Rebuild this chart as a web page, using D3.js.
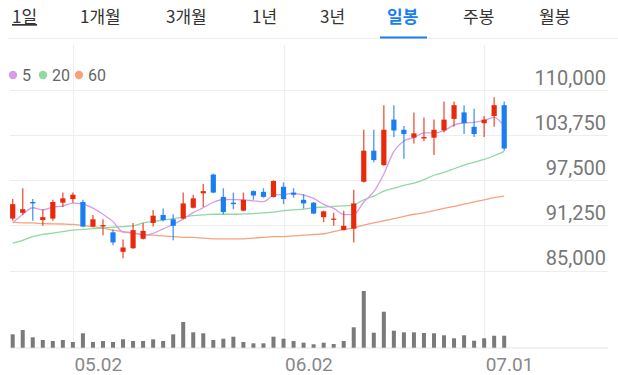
<!DOCTYPE html>
<html><head><meta charset="utf-8">
<script src="https://cdn.jsdelivr.net/npm/d3@7"></script>
<style>html,body{margin:0;padding:0;background:#fff;}svg{display:block;}</style>
</head><body>
<svg id="chart" width="618" height="375"></svg>
<script>
const dates = ["04.22","04.25","04.26","04.27","04.28","04.29","05.02","05.03","05.04","05.06",
"05.09","05.10","05.11","05.12","05.13","05.16","05.17","05.18","05.19","05.20",
"05.23","05.24","05.25","05.26","05.27","05.30","05.31","06.02","06.03","06.07",
"06.08","06.09","06.10","06.13","06.14","06.15","06.16","06.17","06.20","06.21",
"06.22","06.23","06.24","06.27","06.28","06.29","06.30","07.01","07.04","07.05"];
const openP = [92200,93000,94500,92000,92200,94400,94900,94500,91100,91100,
90300,87600,88100,89400,91600,92700,92100,92200,93700,95700,
98300,95200,94400,93300,96000,95900,95200,96600,95800,94800,
94400,92400,92100,90600,90800,97300,101600,99600,105900,104500,
103400,103300,103400,104400,106000,106900,104900,105400,106400,107900];
const highP = [94900,96400,94900,93500,94800,95800,95800,94800,92700,92100,
90700,89300,91600,91600,93400,93600,92800,95800,95500,97000,
98400,96400,95800,95800,96100,96400,97500,97200,96400,95600,
94500,93300,93000,93300,96200,104500,104500,107900,107900,105000,
106900,106200,105900,108400,108400,107900,107400,106400,109000,108400];
const lowP = [91900,92700,91900,91200,91900,93800,94400,91000,91000,89900,
88500,86700,88000,89300,91100,91800,89200,92100,93600,93800,
95700,92800,93500,93200,94800,95100,95100,94200,95100,93600,
92800,91700,91200,90600,88900,97200,100000,99500,103500,100500,
102600,102900,101000,104100,104900,103900,103500,103500,104900,101600];
const closeP = [94200,93500,94300,92400,94500,95000,95500,91100,92100,91300,
88900,88200,90600,90500,92600,92000,91200,94300,95000,96000,
95800,93100,94200,94800,95400,95200,97400,94900,95500,94300,
92900,93200,92200,91200,94300,101600,100300,104500,104400,103900,
104000,103500,104500,105900,107900,105400,103900,105900,107900,101900];
const volume = [354000,468000,275000,204000,177000,204000,151000,381000,151000,177000,
151000,222000,177000,177000,222000,177000,354000,680000,407000,381000,
204000,238000,291000,151000,116000,116000,291000,238000,177000,132000,
90000,132000,98000,177000,540000,1500000,397000,952000,450000,407000,
407000,389000,381000,328000,249000,328000,185000,249000,317000,317000];
const ma5 = [91600,92800,93700,93400,93780,93940,94340,94200,93640,92800,
91780,90320,90220,89900,90160,90780,91380,92120,93020,93700,
94460,94840,94820,94780,94660,94540,95400,95540,95680,95460,
95000,94160,93620,92760,92760,94500,95920,98380,101500,102940,
103420,104060,104060,104360,105160,105440,105520,105800,106200,105000];
const ma20 = [88800,89200,89700,90000,90200,90400,90600,90700,90800,90900,
91000,91100,91200,91600,91800,92000,92200,92400,92600,92700,
92800,92800,92800,92850,92900,93000,93100,93300,93400,93500,
93700,93800,93900,93950,94100,94800,95300,96000,96400,96800,
97100,97600,98200,98600,99100,99600,100000,100400,100900,101500];
const ma60 = [91700,91600,91600,91500,91480,91450,91400,91250,91100,90900,
90600,90400,90200,90000,89900,89800,89700,89600,89600,89500,
89400,89400,89400,89400,89500,89600,89700,89700,89800,89900,
90000,90100,90400,90700,90900,91300,91600,91900,92200,92500,
92800,93000,93300,93600,93900,94200,94500,94800,95100,95300];
const priceTicks = [85000,91250,97500,103750,110000];
const dateTicks = ["05.02","06.02","07.01"];
const tabs = ["1일","1개월","3개월","1년","3년","일봉","주봉","월봉"];
const legendItems = [{label:"5", key:"ma5"},{label:"20", key:"ma20"},{label:"60", key:"ma60"}];

const C = {up:"#e8290b", down:"#1a7ef2", ma5:"#d59ce8", ma20:"#8fd9a2", ma60:"#f6a37d",
           grid:"#eeeeee", vol:"#7a7a7a", text:"#333", axis:"#777", blue:"#1a7ef2"};

const svg = d3.select("#chart");
const data = dates.map((d,i)=>({date:d, o:openP[i], h:highP[i], l:lowP[i], c:closeP[i], v:volume[i],
  ma5:ma5[i], ma20:ma20[i], ma60:ma60[i]}));

const x = d3.scalePoint().domain(dates).range([12.7, 504.2]);
const y = d3.scaleLinear().domain([85000,110000]).range([270.6, 90]);
const yv = d3.scaleLinear().domain([0,1500000]).range([347.7, 291]);

// tabs
const tabX = [12,80,166,252,320,387,463,539];
const tabG = svg.append("g");
tabG.selectAll("text").data(tabs).join("text")
  .attr("x",(d,i)=>tabX[i]).attr("y",23)
  .attr("font-family","'Noto Sans CJK KR','Noto Sans',sans-serif")
  .attr("font-size",17)
  .attr("font-weight",(d,i)=>i===5?700:400)
  .attr("fill",(d,i)=>i===5?C.blue:C.text)
  .attr("text-decoration",(d,i)=>i===0?"underline":null)
  .text(d=>d);
svg.append("line").attr("x1",8).attr("x2",618).attr("y1",38.5).attr("y2",38.5).attr("stroke","#eeeeee");
svg.append("rect").attr("x",380).attr("y",36.5).attr("width",47).attr("height",2).attr("fill",C.blue);

// legend
const lg = svg.append("g");
let lx = 13;
const legX = [13,43,79];
legendItems.forEach((it,i)=>{
  lg.append("circle").attr("cx",legX[i]).attr("cy",75).attr("r",4.2).attr("fill",C[it.key]);
  lg.append("text").attr("x",legX[i]+9).attr("y",80.5).attr("font-family","Roboto,sans-serif")
    .attr("font-size",16).attr("fill","#666").text(it.label);
});

// gridlines
svg.append("g").selectAll("line").data(priceTicks).join("line")
  .attr("x1",10).attr("x2",608).attr("y1",d=>Math.round(y(d))+0.5).attr("y2",d=>Math.round(y(d))+0.5)
  .attr("stroke",C.grid);
svg.append("g").selectAll("line").data(dateTicks).join("line")
  .attr("x1",d=>Math.round(x(d))+0.5).attr("x2",d=>Math.round(x(d))+0.5)
  .attr("y1",45).attr("y2",348).attr("stroke",C.grid);
svg.append("line").attr("x1",10).attr("x2",608).attr("y1",348).attr("y2",348).attr("stroke","#e3e3e3");

// price axis labels
const yAxis = svg.append("g").attr("transform","translate(606,0)")
  .call(d3.axisLeft(y).tickValues(priceTicks).tickSize(0).tickFormat(d3.format(",")));
yAxis.select(".domain").remove();
yAxis.selectAll("text").attr("x",0).attr("dy",null).attr("y",-6)
  .attr("font-family","Roboto,sans-serif").attr("font-size",20).attr("fill",C.axis).attr("text-anchor","end");

// date axis labels
const xAxis = svg.append("g").attr("transform","translate(0,348)")
  .call(d3.axisBottom(x).tickValues(dateTicks).tickSize(0));
xAxis.select(".domain").remove();
xAxis.selectAll("text").attr("x",1).attr("dy",null).attr("y",23)
  .attr("font-family","Roboto,sans-serif").attr("font-size",19).attr("fill","#888").attr("text-anchor","start");

// MA lines
["ma60","ma20","ma5"].forEach(k=>{
  svg.append("path").datum(data)
    .attr("d", d3.line().x(d=>x(d.date)).y(d=>y(d[k])).curve(d3.curveMonotoneX))
    .attr("fill","none").attr("stroke",C[k]).attr("stroke-width",1.3);
});

// candles
const cg = svg.append("g");
const col = d => d.c >= d.o ? C.up : C.down;
cg.selectAll("line").data(data).join("line")
  .attr("x1",d=>x(d.date)).attr("x2",d=>x(d.date))
  .attr("y1",d=>y(d.h)).attr("y2",d=>y(d.l))
  .attr("stroke",col).attr("stroke-width",1.4).attr("stroke-opacity",0.75);
cg.selectAll("rect").data(data).join("rect")
  .attr("x",d=>x(d.date)-2.6).attr("width",5.2)
  .attr("y",d=>y(Math.max(d.o,d.c)))
  .attr("height",d=>Math.max(1.2, Math.abs(y(d.o)-y(d.c))))
  .attr("fill",col);

// volume
svg.append("g").selectAll("rect").data(data).join("rect")
  .attr("x",d=>x(d.date)-2).attr("width",4)
  .attr("y",d=>yv(d.v)).attr("height",d=>yv(0)-yv(d.v))
  .attr("fill",C.vol);
</script>
</body></html>
